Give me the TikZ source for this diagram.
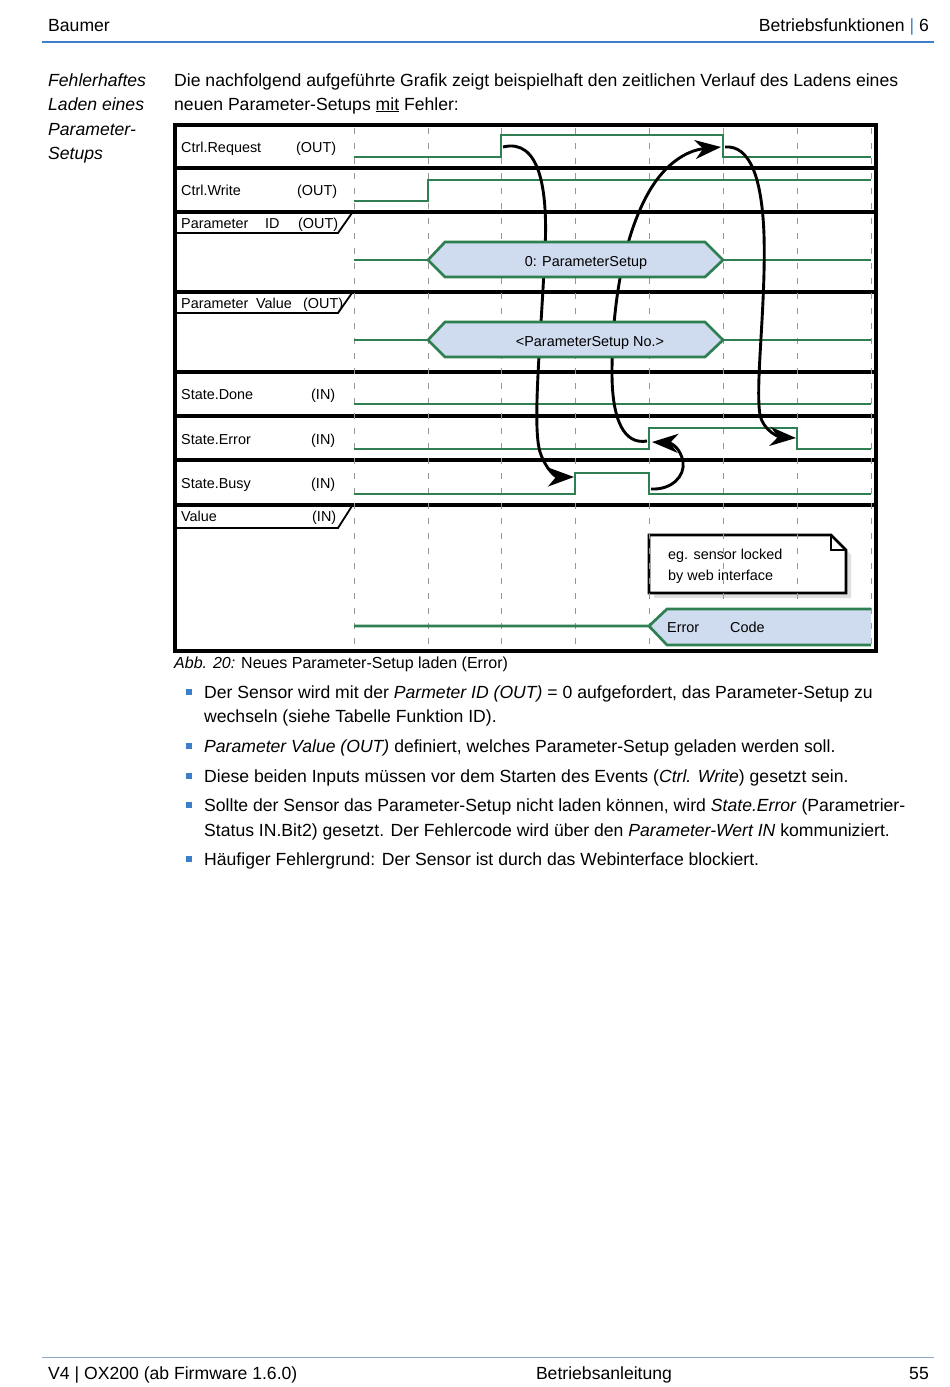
\documentclass[tikz,border=0pt]{standalone}
\usepackage{fontspec}
\setmainfont{Liberation Sans}
\usetikzlibrary{arrows.meta,shadows}
\definecolor{sgreen}{RGB}{46,128,82}
\definecolor{busblue}{RGB}{207,219,238}
\definecolor{hblue}{RGB}{62,126,200}
\definecolor{fblue}{RGB}{140,168,198}
\definecolor{gridgray}{RGB}{150,150,150}
\newcommand\bodyfont{\fontsize{17.6}{21}\selectfont}
\newcommand\lblfont{\fontsize{14.4}{16}\selectfont}

\begin{document}
\begin{tikzpicture}[x=1pt,y=-1pt,
  sig/.style={sgreen, line width=2.7pt},
  bus/.style={sgreen, fill=busblue, line width=2.7pt},
  gridline/.style={gridgray, line width=0.8pt, dash pattern=on 6pt off 9pt},
  sep/.style={line width=3.2pt},
  tab/.style={line width=1.8pt},
  arr/.style={line width=2.9pt, -{Stealth[length=26pt,width=19pt,inset=8pt]}},
  lbl/.style={anchor=base west, inner sep=0pt, font=\lblfont},
  txt/.style={anchor=base west, inner sep=0pt, font=\bodyfont},
  dot/.style={fill=hblue, minimum size=6pt, inner sep=0pt}]
  \fill[white] (0,0) rectangle (950,1387);
  \useasboundingbox (0,0) rectangle (950,1387);

  % page head
  \node[txt] (head) at (48,31) {Baumer};
  \node[txt, anchor=base east] (chap) at (929,31) {Betriebsfunktionen {\color{hblue}|} 6};
  \draw[hblue, line width=1.2pt] (42,42) -- (934,42);

  \foreach \t [count=\i] in {Fehlerhaftes, Laden eines, Parameter-, Setups}
    \node[txt, font=\bodyfont\itshape] (side\i) at (48,61.5+24.5*\i) {\t};
  \node[txt] (intro1) at (174,86) {Die nachfolgend aufgeführte Grafik zeigt beispielhaft den zeitlichen Verlauf des Ladens eines};
  \node[txt] (intro2) at (174,110) {neuen Parameter-Setups \underline{mit} Fehler:};

  % timing diagram
  \draw[sep] (175,125) rectangle (876,651);
  \foreach \y in {168,212,292,372,416,460,505}
    \draw[sep] (175,\y) -- (876,\y);
  \draw[tab] (175,233) -- (338,233) -- (352,213);
  \draw[tab] (175,313) -- (338,313) -- (352,293);
  \draw[tab] (175,528) -- (338,528) -- (352,506);

  \draw[line width=2.6pt, fill=white, drop shadow={opacity=0.25, shadow xshift=5pt, shadow yshift=-5pt}]
    (649,535) -- (831,535) -- (846,550) -- (846,593) -- (649,593) -- cycle;
  \draw[line width=2pt] (831,535) -- (831,550) -- (846,550);
  \node[lbl] (note) at (668,559) {eg. sensor locked};
  \node[lbl] (note2) at (668,580) {by web interface};

  \foreach \x in {354,428,501,575,649,723,797,871}
    \draw[gridline] (\x,128) -- (\x,648);

  \draw[sig] (354,157) -- (501,157) -- (501,135) -- (723,135) -- (723,157) -- (871,157);
  \draw[sig] (354,201) -- (428,201) -- (428,180) -- (871,180);
  \draw[sig] (354,260) -- (428,260) (723,260) -- (871,260);
  \draw[sig] (354,340) -- (428,340) (723,340) -- (871,340);
  \draw[sig] (354,404) -- (871,404);
  \draw[sig] (354,449) -- (649,449) -- (649,428) -- (797,428) -- (797,449) -- (871,449);
  \draw[sig] (354,494) -- (575,494) -- (575,473) -- (649,473) -- (649,494) -- (871,494);
  \fill[busblue] (649,626) -- (667,609) -- (871,609) -- (871,645) -- (667,645) -- cycle;
  \draw[sig] (354,626) -- (649,626) -- (667,609) -- (871,609);
  \draw[sig] (649,626) -- (667,645) -- (871,645);

  % handshake
  \coordinate (reqUp) at (503,147);
  \coordinate (busyUp) at (574,477);
  \coordinate (errUp) at (647,441);
  \coordinate (reqDown) at (721,147);
  \coordinate (reqDownR) at (725,147);
  \coordinate (errDown) at (796,438);
  \coordinate (busyDown) at (651,489);
  \coordinate (errUpR) at (652,442);
  \draw[arr] (reqUp) .. controls (540,138) and (548,190) .. (545,250)
    .. controls (541,340) and (532,425) .. (540,452) .. controls (546,470) and (556,477) .. (busyUp);
  \draw[arr] (errUp) .. controls (624,445) and (612,420) .. (612,373)
    .. controls (612,300) and (625,232) .. (650,190) .. controls (668,160) and (690,150) .. (reqDown);
  \draw[arr] (reqDownR) .. controls (750,145) and (762,178) .. (764,235)
    .. controls (766,305) and (755,385) .. (760,415) .. controls (764,432) and (780,437) .. (errDown);
  \draw[arr] (busyDown) .. controls (672,490) and (685,476) .. (683,462)
    .. controls (681,449) and (672,443) .. (errUpR);

  \draw[bus] (428,260) -- (445,242) -- (705,242) -- (723,260) -- (705,277) -- (445,277) -- cycle;
  \draw[bus] (428,340) -- (445,322) -- (705,322) -- (723,340) -- (705,357) -- (445,357) -- cycle;

  \node[lbl] (lreq) at (181,152) {Ctrl.Request};   \node[lbl] (oreq) at (296,152) {(OUT)};
  \node[lbl] (lwrite) at (181,195) {Ctrl.Write};   \node[lbl] (owrite) at (297,195) {(OUT)};
  \node[lbl] (lid) at (181,228) {Parameter};       \node[lbl] (lid2) at (265,228) {ID};
  \node[lbl] (oid) at (298,228) {(OUT)};
  \node[lbl] (lval) at (181,308) {Parameter};      \node[lbl] (lval2) at (256,308) {Value};
  \node[lbl] (oval) at (303,308) {(OUT)};
  \node[lbl] (ldone) at (181,399) {State.Done};    \node[lbl] (idone) at (311,399) {(IN)};
  \node[lbl] (lerr) at (181,444) {State.Error};    \node[lbl] (ierr) at (311,444) {(IN)};
  \node[lbl] (lbusy) at (181,488) {State.Busy};    \node[lbl] (ibusy) at (311,488) {(IN)};
  \node[lbl] (lvalue) at (181,521) {Value};        \node[lbl] (ivalue) at (312,521) {(IN)};
  \node[lbl, anchor=base] (idbus) at (586,266) {0: ParameterSetup};
  \node[lbl, anchor=base] (valbus) at (590,346) {<ParameterSetup No.>};
  \node[lbl] (ecode) at (667,632) {Error};
  \node[lbl] (ecode2) at (730,632) {Code};

  % caption and list
  \node[lbl, font=\fontsize{16}{18}\selectfont] (cap) at (174,668) {\textit{Abb. 20:} Neues Parameter-Setup laden (Error)};
  \foreach \y in {692,746,776,805,859}
    \node[dot] at (188.5,\y) {};
  \node[txt] (it1) at (204,698) {Der Sensor wird mit der \textit{Parmeter ID (OUT)} = 0 aufgefordert, das Parameter-Setup zu};
  \node[txt] (it1b) at (204,722) {wechseln (siehe Tabelle Funktion ID).};
  \node[txt] (it2) at (204,752) {\textit{Parameter Value (OUT)} definiert, welches Parameter-Setup geladen werden soll.};
  \node[txt] (it3) at (204,782) {Diese beiden Inputs müssen vor dem Starten des Events (\textit{Ctrl. Write}) gesetzt sein.};
  \node[txt] (it4) at (204,811) {Sollte der Sensor das Parameter-Setup nicht laden können, wird \textit{State.Error} (Parametrier-};
  \node[txt] (it4b) at (204,836) {Status IN.Bit2) gesetzt. Der Fehlercode wird über den \textit{Parameter-Wert IN} kommuniziert.};
  \node[txt] (it5) at (204,865) {Häufiger Fehlergrund: Der Sensor ist durch das Webinterface blockiert.};

  % page foot
  \draw[fblue, line width=1pt] (42,1357) -- (934,1357);
  \node[txt] (ver) at (48,1379) {V4 | OX200 (ab Firmware 1.6.0)};
  \node[txt, anchor=base] (doc) at (604,1379) {Betriebsanleitung};
  \node[txt, anchor=base east] (pg) at (929,1379) {55};
\end{tikzpicture}
\end{document}
